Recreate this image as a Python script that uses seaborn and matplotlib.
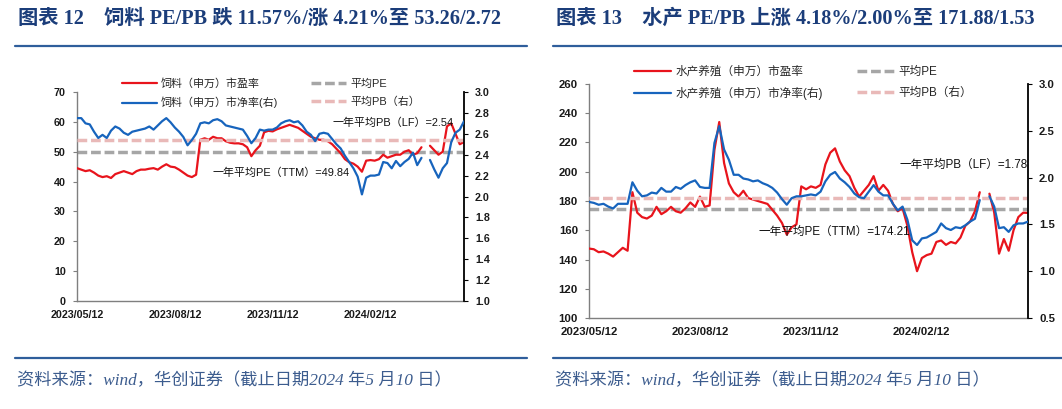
import numpy as np
import pandas as pd
import matplotlib
matplotlib.use("Agg")
import matplotlib.pyplot as plt
import matplotlib.dates as mdates
from matplotlib.lines import Line2D
import seaborn as sns

# ---------------- data ----------------
dates = pd.date_range("2023-05-12", "2024-05-10", freq="4D")  # 92 sampling dates
nan = np.nan

feed_pe = [44.5, 44.0, 43.5, 43.8, 43.0, 42.0, 41.5, 41.8, 41.2, 42.5,
           43.0, 43.5, 43.0, 42.5, 43.5, 44.0, 44.0, 44.3, 44.5, 44.0,
           45.0, 45.8, 45.0, 44.8, 44.0, 43.0, 42.0, 41.5, 42.3, 54.0,
           54.5, 54.0, 55.0, 54.5, 54.5, 53.5, 53.0, 52.8, 52.8, 52.5,
           51.5, 48.5, 50.5, 52.0, 56.5, 57.0, 56.8, 57.5, 58.0, 58.5,
           59.0, 58.5, 58.0, 57.0, 56.0, 55.0, 54.5, 54.0, 54.0, 53.5,
           52.5, 51.0, 49.5, 47.5, 46.5, 46.0, 45.0, 43.3, 47.0, 47.2,
           47.0, 47.5, 49.0, 48.0, 48.5, 49.0, 49.0, 50.0, 50.5, 49.0,
           49.5, 51.5, nan, 52.0, 50.5, 49.0, 50.0, 58.5, 59.5, 56.0,
           52.5, 53.26]
feed_pb = [2.75, 2.75, 2.70, 2.69, 2.62, 2.56, 2.59, 2.56, 2.63, 2.67,
           2.65, 2.61, 2.59, 2.62, 2.63, 2.64, 2.65, 2.67, 2.64, 2.68,
           2.72, 2.75, 2.71, 2.66, 2.62, 2.57, 2.49, 2.54, 2.60, 2.70,
           2.71, 2.70, 2.73, 2.74, 2.72, 2.68, 2.67, 2.66, 2.65, 2.64,
           2.58, 2.51, 2.56, 2.64, 2.63, 2.64, 2.64, 2.66, 2.70, 2.72,
           2.73, 2.71, 2.72, 2.68, 2.62, 2.59, 2.53, 2.60, 2.61, 2.60,
           2.55, 2.50, 2.46, 2.39, 2.33, 2.27, 2.19, 2.02, 2.18, 2.20,
           2.20, 2.21, 2.33, 2.32, 2.27, 2.34, 2.29, 2.33, 2.36, 2.42,
           2.30, 2.37, nan, 2.35, 2.26, 2.18, 2.27, 2.32, 2.52, 2.61,
           2.64, 2.72]
aqua_pe = [147.5, 147.0, 145.0, 145.5, 144.0, 142.0, 145.0, 148.0, 146.0, 186.0,
           172.0, 169.0, 168.0, 170.0, 176.0, 171.0, 173.0, 176.0, 173.0, 172.0,
           175.0, 179.0, 176.0, 183.0, 176.0, 177.0, 215.0, 234.0, 206.0, 192.0,
           186.0, 183.0, 187.0, 182.0, 181.0, 180.0, 179.0, 178.0, 174.0, 170.0,
           165.0, 157.0, 162.0, 164.0, 190.0, 188.0, 190.0, 189.0, 191.0, 205.0,
           213.0, 216.0, 207.0, 201.0, 197.0, 189.0, 183.0, 187.0, 191.0, 197.0,
           187.0, 191.0, 187.0, 178.0, 173.0, 175.0, 163.0, 145.0, 132.0, 141.0,
           143.0, 144.0, 152.0, 153.0, 150.0, 152.0, 151.0, 155.0, 163.0, 166.0,
           173.0, 186.0, nan, 185.0, 172.0, 144.0, 154.0, 146.0, 160.0, 169.0,
           172.0, 171.88]
aqua_pb = [1.74, 1.73, 1.71, 1.72, 1.69, 1.67, 1.72, 1.72, 1.72, 1.95,
           1.86, 1.80, 1.81, 1.84, 1.83, 1.89, 1.85, 1.85, 1.90, 1.88,
           1.92, 1.95, 1.97, 1.90, 1.89, 1.89, 2.37, 2.55, 2.30, 2.19,
           2.03, 2.03, 1.99, 1.98, 1.96, 1.97, 1.94, 1.92, 1.89, 1.84,
           1.77, 1.71, 1.78, 1.80, 1.80, 1.81, 1.82, 1.81, 1.85, 1.96,
           2.03, 2.06, 1.99, 1.95, 1.90, 1.83, 1.79, 1.78, 1.85, 1.92,
           1.85, 1.81, 1.81, 1.72, 1.65, 1.69, 1.55, 1.33, 1.28, 1.35,
           1.36, 1.39, 1.42, 1.51, 1.46, 1.44, 1.47, 1.46, 1.49, 1.53,
           1.56, 1.76, nan, 1.80, 1.69, 1.46, 1.47, 1.42, 1.49, 1.51,
           1.51, 1.53]

feed_pe_avg, feed_pb_avg = 49.84, 2.54
aqua_pe_avg, aqua_pb_avg = 174.21, 1.78

xtick_dates = ["2023-05-12", "2023-08-12", "2023-11-12", "2024-02-12"]

feed_labels = ["饲料（申万）市盈率", "饲料（申万）市净率(右)", "平均PE", "平均PB（右）"]
aqua_labels = ["水产养殖（申万）市盈率", "水产养殖（申万）市净率(右)", "平均PE", "平均PB（右）"]
feed_title = "图表 12　饲料 PE/PB 跌 11.57%/涨 4.21%至 53.26/2.72"
aqua_title = "图表 13　水产 PE/PB 上涨 4.18%/2.00%至 171.88/1.53"
feed_notes = ["一年平均PE（TTM）=49.84", "一年平均PB（LF）=2.54"]
aqua_notes = ["一年平均PE（TTM）=174.21", "一年平均PB（LF）=1.78"]
source = "资料来源：wind，华创证券（截止日期2024 年5 月10 日）"

# ---------------- style ----------------
sns.set_style("white")
plt.rcParams["font.family"] = ["Liberation Sans", "Noto Sans CJK SC"]
plt.rcParams["axes.unicode_minus"] = False

RED = "#E8141C"
BLUE = "#1764BD"
GRAY = "#A6A6A6"
PINK = "#E9B9B8"
TITLE_C = "#1B3D7A"
RULE_C = "#2F5E9B"
SRC_C = "#3C5C8E"
SPINE_C = "#7F7F7F"
LW = 1.6
CJK_SANS = ["Liberation Sans", "Noto Sans CJK SC"]
CJK_SERIF = ["Liberation Serif", "Noto Sans CJK SC"]

W, H = 1062, 409
fig = plt.figure(figsize=(W / 100, H / 100), dpi=100)


def fx(px):
    return px / W


def fy(py):
    return 1 - py / H


def panel(rect, pe, pb, pe_avg, pb_avg, ylim_l, yticks_l, ylim_r, yticks_r,
          fs, labels, notes, note_pos, leg_anchor, leg_colsp):
    ax = fig.add_axes(rect)
    ax2 = ax.twinx()
    df = pd.DataFrame({"date": dates, "pe": pe, "pb": pb})
    df["seg"] = df["pe"].isna().cumsum()
    d = df.dropna()
    sns.lineplot(data=d, x="date", y="pe", units="seg", estimator=None,
                 color=RED, lw=LW, ax=ax, zorder=3)
    sns.lineplot(data=d, x="date", y="pb", units="seg", estimator=None,
                 color=BLUE, lw=LW, ax=ax2, zorder=3)
    pe_line = ax.lines[0]
    pb_line = ax2.lines[0]
    pe_avg_line = ax.axhline(pe_avg, color=GRAY, lw=2.5, ls=(0, (2.8, 1.1)), zorder=2)
    pb_avg_line = ax2.axhline(pb_avg, color=PINK, lw=2.5, ls=(0, (2.8, 1.1)), zorder=2)

    ax.set_xlim(dates[0], dates[-1])
    ax.set_ylim(*ylim_l)
    ax.set_yticks(yticks_l)
    ax2.set_ylim(*ylim_r)
    ax2.set_yticks(yticks_r)
    ax2.yaxis.set_major_formatter(matplotlib.ticker.FormatStrFormatter("%.1f"))
    ax.set_xticks(pd.to_datetime(xtick_dates))
    ax.xaxis.set_major_formatter(mdates.DateFormatter("%Y/%m/%d"))
    for a in (ax, ax2):
        a.set_xlabel("")
        a.set_ylabel("")
        a.grid(False)
        a.set_facecolor("none")
    for s in ("top", "right"):
        ax.spines[s].set_visible(False)
    for s in ("top", "left", "bottom"):
        ax2.spines[s].set_visible(False)
    ax.spines["left"].set_color(SPINE_C)
    ax.spines["bottom"].set_color(SPINE_C)
    ax.spines["left"].set_linewidth(1.0)
    ax.spines["bottom"].set_linewidth(1.0)
    ax2.spines["right"].set_color("#000000")
    ax2.spines["right"].set_linewidth(1.3)
    ax.tick_params(axis="x", direction="in", length=3, color=SPINE_C, pad=6.5,
                   labelsize=fs)
    ax.tick_params(axis="y", direction="out", length=3, color=SPINE_C, pad=5,
                   labelsize=fs)
    ax2.tick_params(axis="y", direction="out", length=3, color="#000000", pad=5,
                    labelsize=fs)
    for lab in ax.get_xticklabels() + ax.get_yticklabels() + ax2.get_yticklabels():
        lab.set_fontweight("bold")
        lab.set_color("#1A1A1A")

    fig.legend([pe_line, pb_line, pe_avg_line, pb_avg_line], labels,
               ncol=2, loc="upper left", bbox_to_anchor=leg_anchor,
               frameon=False, borderpad=0, borderaxespad=0,
               handlelength=3.2, handletextpad=0.35, columnspacing=leg_colsp,
               labelspacing=0.75, prop={"family": CJK_SANS, "size": fs + 0.2})

    (x1, y1), (x2, y2) = note_pos
    ax.text(x1, y1, notes[0], transform=ax.transAxes, ha="left", va="center",
            fontsize=fs + 0.2, family=CJK_SANS, color="#111111")
    ax.text(x2, y2, notes[1], transform=ax.transAxes, ha="left", va="center",
            fontsize=fs + 0.2, family=CJK_SANS, color="#111111")
    return ax, ax2


# left panel: axes spans px x 77..464, y 92..301
panel([fx(77), fy(301), fx(464) - fx(77), fy(92) - fy(301)],
      feed_pe, feed_pb, feed_pe_avg, feed_pb_avg,
      (0, 70), list(range(0, 71, 10)), (1.0, 3.0), list(np.arange(1.0, 3.01, 0.2)),
      7.7, feed_labels, feed_notes,
      [(0.351, 0.612), (0.659, 0.852)], (fx(122), fy(78)), 3.0)

# right panel: axes spans px x 589..1028, y 84..318
panel([fx(589), fy(318), fx(1028) - fx(589), fy(84) - fy(318)],
      aqua_pe, aqua_pb, aqua_pe_avg, aqua_pb_avg,
      (100, 260), list(range(100, 261, 20)), (0.5, 3.0), list(np.arange(0.5, 3.01, 0.5)),
      8.2, aqua_labels, aqua_notes,
      [(0.387, 0.368), (0.708, 0.654)], (fx(634), fy(66)), 2.9)

# titles, rules, sources
for x0, title in ((18, feed_title), (556, aqua_title)):
    fig.text(fx(x0), fy(19), title, fontsize=14.6, fontweight="bold",
             family=CJK_SERIF, color=TITLE_C, ha="left", va="center")
for xa, xb in ((15, 527), (553, 1062)):
    fig.add_artist(Line2D([fx(xa), fx(xb)], [fy(46), fy(46)], transform=fig.transFigure,
                          color=RULE_C, lw=1.6))
    fig.add_artist(Line2D([fx(xa), fx(xb)], [fy(358), fy(358)], transform=fig.transFigure,
                          color=RULE_C, lw=1.6))
for x0 in (17, 555):
    fig.text(fx(x0), fy(381), source, fontsize=12.4, style="italic",
             family=CJK_SERIF, color=SRC_C, ha="left", va="center")

fig.savefig("out.png", dpi=100)
